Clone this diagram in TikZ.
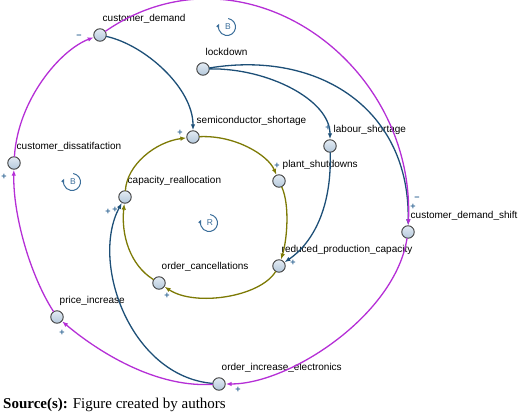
\documentclass[tikz,border=0pt]{standalone}
\usepackage{fontspec}
\setmainfont{Liberation Sans}
\newfontfamily\capfont{Liberation Serif}
\usetikzlibrary{arrows.meta}

\definecolor{linkblue}{HTML}{1D4F77}
\definecolor{linkmag}{HTML}{B52FD6}
\definecolor{linkolive}{HTML}{7D7A05}
\definecolor{polcol}{HTML}{3B6E9A}
\definecolor{vartop}{HTML}{E4ECF4}
\definecolor{varbot}{HTML}{B3C7DA}

\begin{document}
\begin{tikzpicture}[x=1pt,y=-1pt,>={Latex[length=6pt,width=4.5pt]},line join=round,line cap=round,
  var/.style={circle,draw=black!75,line width=0.9pt,inner sep=0pt,minimum size=12.5pt,top color=vartop,bottom color=varbot},
  lbl/.style={anchor=base west,inner sep=0pt,font=\fontsize{10}{12}\selectfont,text=black},
  pol/.style={inner sep=0pt,font=\fontsize{9}{10}\selectfont\bfseries,text=polcol},
  loopsym/.style={polcol,line width=1pt,-{Latex[length=4pt,width=3.5pt]}},
  loopltr/.style={inner sep=0pt,font=\fontsize{8.5}{9}\selectfont,text=polcol},
  bluelink/.style={->,linkblue,line width=1.3pt},
  maglink/.style={->,linkmag,line width=1.3pt},
  olivelink/.style={->,linkolive,line width=1.3pt}]
  \useasboundingbox (0,0) rectangle (520,414);

  % variables
  \node[var] (cd) at (100,35) {};
  \node[var] (ld) at (203,69) {};
  \node[var] (ss) at (193,137) {};
  \node[var] (ls) at (330,146) {};
  \node[var] (dis) at (14,163) {};
  \node[var] (ps) at (279,181) {};
  \node[var] (cr) at (125,197) {};
  \node[var] (cds) at (408,232) {};
  \node[var] (rpc) at (279,266) {};
  \node[var] (oc) at (159,283) {};
  \node[var] (pi) at (57,317) {};
  \node[var] (oie) at (219,384) {};

  % names
  \node[lbl] (cd-l) at ([shift={(2.5,-13.5)}]cd.center) {customer\_demand};
  \node[lbl] (ld-l) at ([shift={(2.5,-13.5)}]ld.center) {lockdown};
  \node[lbl] (ss-l) at ([shift={(3.5,-13.5)}]ss.center) {semiconductor\_shortage};
  \node[lbl] (ls-l) at ([shift={(3.5,-13.5)}]ls.center) {labour\_shortage};
  \node[lbl] (dis-l) at ([shift={(2.5,-13.5)}]dis.center) {customer\_dissatifaction};
  \node[lbl] (ps-l) at ([shift={(3.5,-13.5)}]ps.center) {plant\_shutdowns};
  \node[lbl] (cr-l) at ([shift={(2.5,-13.5)}]cr.center) {capacity\_reallocation};
  \node[lbl] (cds-l) at ([shift={(2.5,-13.5)}]cds.center) {customer\_demand\_shift};
  \node[lbl] (rpc-l) at ([shift={(2.5,-13.5)}]rpc.center) {reduced\_production\_capacity};
  \node[lbl] (oc-l) at ([shift={(2.5,-13.5)}]oc.center) {order\_cancellations};
  \node[lbl] (pi-l) at ([shift={(2.5,-13.5)}]pi.center) {price\_increase};
  \node[lbl] (oie-l) at ([shift={(2.5,-13.5)}]oie.center) {order\_increase\_electronics};

  % blue links
  \draw[bluelink] (cd) .. controls (145,45) and (193,88) .. (ss);
  \draw[bluelink] (ld) .. controls (268,68) and (330,100) .. (ls);
  \draw[bluelink] (ld) .. controls (320,50) and (410,110) .. (cds);
  \draw[bluelink] (ls) .. controls (332,212) and (310,245) .. (rpc);
  \draw[bluelink] (oie) .. controls (130,376) and (90,262) .. (cr);

  % magenta links
  \draw[maglink] (cd) .. controls (241,-62) and (415,60) .. (cds);
  \draw[maglink] (cds) .. controls (395,315) and (290,384) .. (oie);
  \draw[maglink] (oie) .. controls (150,388) and (90,345) .. (pi);
  \draw[maglink] (pi) .. controls (30,275) and (13,215) .. (dis);
  \draw[maglink] (dis) .. controls (18,100) and (60,50) .. (cd);

  % olive loop
  \draw[olivelink] (cr) .. controls (127,165) and (155,142) .. (ss);
  \draw[olivelink] (ss) .. controls (235,135) and (268,155) .. (ps);
  \draw[olivelink] (ps) .. controls (290,205) and (287,240) .. (rpc);
  \draw[olivelink] (rpc) .. controls (260,297) and (195,307) .. (oc);
  \draw[olivelink] (oc) .. controls (130,265) and (121,235) .. (cr);

  % polarities
  \node[pol] (p1) at (180,133) {+};
  \node[pol] (p2) at (277,166) {+};
  \node[pol] (p3) at (328,128) {+};
  \node[pol] (p4) at (293,263) {+};
  \node[pol] (p5) at (167,296) {+};
  \node[pol] (p6) at (108,212) {+};
  \node[pol] (p7) at (115,210) {+};
  \node[pol] (p8) at (62,333) {+};
  \node[pol] (p9) at (238,390) {+};
  \node[pol] (p10) at (4,177) {+};
  \node[pol] (p11) at (79,37) {−};
  \node[pol] (p12) at (417,199) {−};
  \node[pol] (p13) at (413,206.5) {+};

  % loop markers
  \draw[loopsym] ([shift={(80:8.5pt)}]227,27) arc[start angle=80,end angle=-205,radius=8.5pt];
  \node[loopltr] (lp1) at (228,27) {B};
  \draw[loopsym] ([shift={(80:8.5pt)}]72,182) arc[start angle=80,end angle=-205,radius=8.5pt];
  \node[loopltr] (lp2) at (73,182) {B};
  \draw[loopsym] ([shift={(80:8.5pt)}]209,223) arc[start angle=80,end angle=-205,radius=8.5pt];
  \node[loopltr] (lp3) at (210,223) {R};

  \node[anchor=base west,inner sep=0pt,font=\capfont\fontsize{15}{18}\selectfont] (src) at (3,409) {\textbf{Source(s):} Figure created by authors};
\end{tikzpicture}
\end{document}
